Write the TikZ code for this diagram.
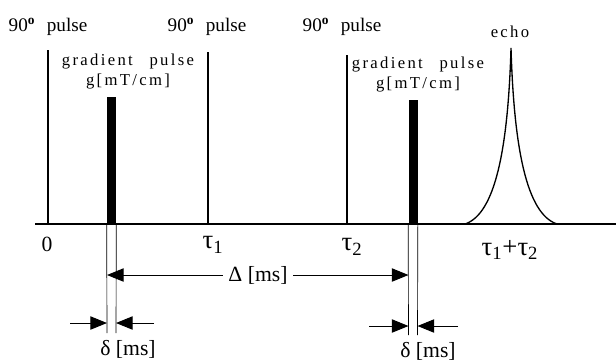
\documentclass[tikz,border=0pt]{standalone}
\usepackage{fontspec}
\setmainfont{Liberation Serif}
\newfontfamily\spaced[LetterSpace=14]{Liberation Serif}
\usetikzlibrary{arrows.meta}

\newcommand{\degmark}{\textsuperscript{\textbf{o}}}

\begin{document}
\begin{tikzpicture}[x=0.6pt,y=-0.6pt]
\useasboundingbox (0,0) rectangle (616,360);
\tikzset{rf/.style={line width=1.6pt},
  grad/.style={fill=black,inner sep=0pt,minimum width=5.4pt,anchor=south},
  dim/.style={-{Triangle[length=10pt,width=8pt]},semithick},
  lbl/.style={font=\fontsize{11.5}{13}\selectfont},
  sp/.style={font=\spaced\fontsize{10}{12}\selectfont,align=center,inner sep=1pt},
  big/.style={font=\fontsize{16}{18}\selectfont}}
% time axis
\coordinate (O) at (35,224);
\coordinate (T) at (616,224);
\draw [thick] (O) -- (T);
% rf pulses
\coordinate (P1) at (48,50);
\coordinate (P2) at (208,52);
\coordinate (P3) at (347,55);
\draw [rf] (P1) -- (P1 |- O);
\draw [rf] (P2) -- (P2 |- O);
\draw [rf] (P3) -- (P3 |- O);
\node [lbl] (L1) at (48,27) {90\degmark\hspace{0.6em}pulse};
\node [lbl] (L2) at (207,27) {90\degmark\hspace{0.6em}pulse};
\node [lbl] (L3) at (342,27) {90\degmark\hspace{0.6em}pulse};
% gradient pulses
\node [grad,minimum height=76.2pt] (G1) at (111.5,224) {};
\node [grad,minimum height=74.4pt] (G2) at (413,224) {};
\node [sp] (GL1) at (128,72) {gradient\quad pulse\\g[mT/cm]};
\node [sp] (GL2) at (418,75) {gradient\quad pulse\\g[mT/cm]};
% echo
\coordinate (EL) at (465,224);
\coordinate (EP) at (511,48);
\coordinate (ER) at (557,224);
\draw [thick] (EL) .. controls (495,214) and (508,150) .. (EP)
  .. controls (514,150) and (527,214) .. (ER);
\node [sp] (EC) at (510,32) {echo};
% time marks
\node [lbl,font=\fontsize{13}{15}\selectfont] (t0) at (47,244) {0};
\node [big] (t1) at (213,245) {τ\textsubscript{1}};
\node [big] (t2) at (352,247) {τ\textsubscript{2}};
\node [big] (t3) at (510,250) {τ\textsubscript{1}+τ\textsubscript{2}};
% extension lines
\coordinate (A1) at (107,333);
\coordinate (B1) at (116,333);
\coordinate (A2) at (408.5,335);
\coordinate (B2) at (417.5,335);
\draw (G1.south west) -- (A1);
\draw (G1.south east) -- (B1);
\draw (G2.south west) -- (A2);
\draw (G2.south east) -- (B2);
% Delta
\node [lbl,font=\fontsize{13}{15}\selectfont] (D) at (258,275) {Δ [ms]};
\draw [dim] (D.west) -- (D.west -| A1);
\draw [dim] (D.east) -- (D.east -| A2);
% delta
\coordinate (d1) at (70,323);
\coordinate (d2) at (154,323);
\coordinate (d3) at (369,326);
\coordinate (d4) at (458,326);
\draw [dim] (d1) -- (d1 -| A1);
\draw [dim] (d2) -- (d2 -| B1);
\draw [dim] (d3) -- (d3 -| A2);
\draw [dim] (d4) -- (d4 -| B2);
\node [lbl,font=\fontsize{13}{15}\selectfont] (s1) at (128,349) {δ [ms]};
\node [lbl,font=\fontsize{13}{15}\selectfont] (s2) at (428,351) {δ [ms]};
\end{tikzpicture}
\end{document}
